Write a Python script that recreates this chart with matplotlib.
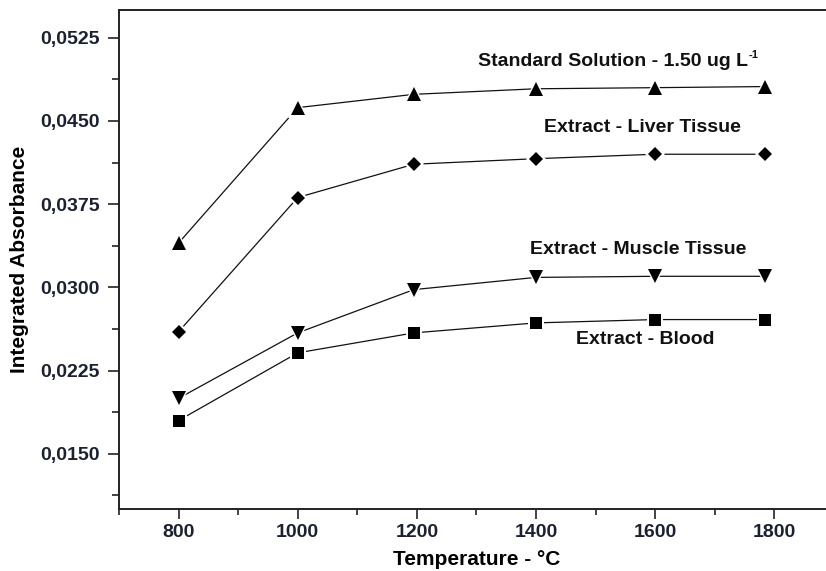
import matplotlib
matplotlib.use("Agg")
import matplotlib.pyplot as plt
from matplotlib.ticker import FixedLocator, MultipleLocator, FuncFormatter

# values
temperature = [800, 1000, 1195, 1400, 1600, 1785]
standard = [0.0340, 0.0462, 0.0474, 0.0479, 0.0480, 0.0481]
liver = [0.0260, 0.0381, 0.0411, 0.0416, 0.0420, 0.0420]
muscle = [0.0200, 0.0259, 0.0298, 0.0309, 0.0310, 0.0310]
blood = [0.0180, 0.0241, 0.0259, 0.0268, 0.0271, 0.0271]

series = [
    (standard, "^", 10.5),
    (liver, "D", 6.8),
    (muscle, "v", 10.5),
    (blood, "s", 8.4),
]

labels = [
    ("Standard Solution - 1.50 ug L", 1302, 0.0504, "left"),
    ("Extract - Liver Tissue", 1579, 0.0444, "center"),
    ("Extract - Muscle Tissue", 1571, 0.0334, "center"),
    ("Extract - Blood", 1584, 0.0253, "center"),
]

yticks = [0.0150, 0.0225, 0.0300, 0.0375, 0.0450, 0.0525]
xticks = [800, 1000, 1200, 1400, 1600, 1800]

plt.rcParams["font.family"] = ["Liberation Sans", "DejaVu Sans"]
plt.rcParams["font.weight"] = "bold"

fig = plt.figure(figsize=(8.26, 5.71), dpi=100)
ax = fig.add_axes([119 / 826, 61.7 / 571, 714.8 / 826, 499.3 / 571])

for values, marker, ms in series:
    ax.plot(temperature, values, color="#111111", lw=0.9, zorder=2)
    # white halo gives the small gap between line and symbol
    ax.plot(temperature, values, ls="none", marker=marker, ms=ms + 3.5,
            mfc="white", mec="white", mew=0, zorder=3)
    ax.plot(temperature, values, ls="none", marker=marker, ms=ms,
            mfc="black", mec="black", mew=0, zorder=4)

texts = []
for text, x, y, ha in labels:
    t = ax.text(x, y, text, ha=ha, va="center", fontsize=14,
                fontweight="bold", color="#111111")
    texts.append(t)

# small superscript after "L"
ax.annotate("-1", xy=(1, 1), xycoords=texts[0], xytext=(1, 1.5),
            textcoords="offset points", ha="left", va="top",
            fontsize=8, fontweight="bold", color="#111111")

ax.set_xlim(700, 1900)
ax.set_ylim(0.0100, 0.0550)

ax.yaxis.set_major_locator(FixedLocator(yticks))
ax.yaxis.set_minor_locator(MultipleLocator(0.00375))
ax.yaxis.set_major_formatter(FuncFormatter(lambda v, p: f"{v:.4f}".replace(".", ",")))
ax.xaxis.set_major_locator(FixedLocator(xticks))
ax.xaxis.set_minor_locator(MultipleLocator(100))

for side in ["left", "bottom", "top"]:
    ax.spines[side].set_linewidth(1.4)
    ax.spines[side].set_color("#222222")
ax.spines["right"].set_visible(False)

ax.tick_params(which="both", direction="out", width=1.2, colors="#222222")
ax.tick_params(axis="y", which="major", length=8, labelsize=14, pad=6)
ax.tick_params(axis="y", which="minor", length=4.7)
ax.tick_params(axis="x", which="major", length=7.2, labelsize=14, pad=3.6)
ax.tick_params(axis="x", which="minor", length=4.3)
ax.tick_params(axis="y", which="both", right=False)
ax.tick_params(axis="x", which="both", top=False)
for lab in ax.get_xticklabels() + ax.get_yticklabels():
    lab.set_fontweight("bold")
    lab.set_color("#1c2130")

ax.set_xlabel("Temperature - °C", fontsize=15, fontweight="bold", labelpad=6)
ax.set_ylabel("Integrated Absorbance", fontsize=15, fontweight="bold", labelpad=8)

fig.savefig("out.png", dpi=100)
